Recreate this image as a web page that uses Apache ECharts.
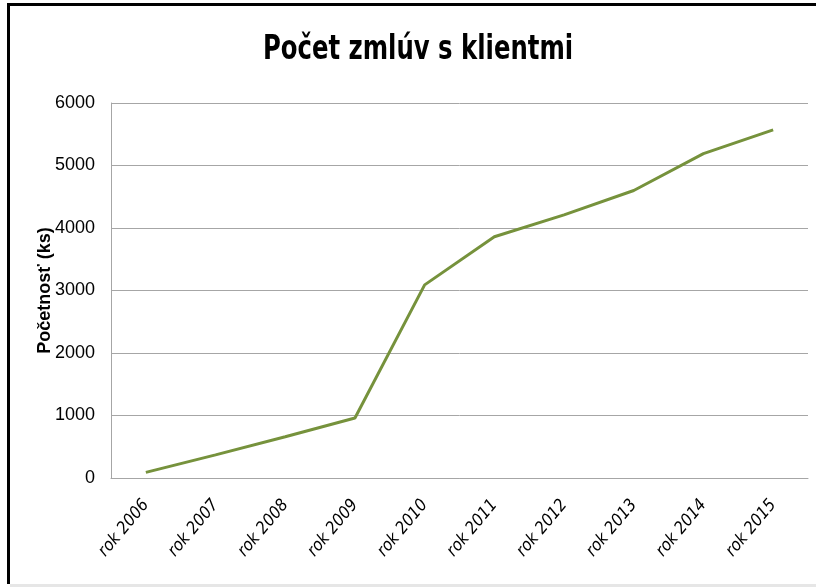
<!DOCTYPE html>
<html>
<head>
<meta charset="utf-8">
<title>Počet zmlúv s klientmi</title>
<script src="https://cdn.jsdelivr.net/npm/echarts@6/dist/echarts.min.js"></script>
<style>
  html, body { margin: 0; padding: 0; background: #fff; }
  #chart { width: 816px; height: 587px; }
</style>
</head>
<body>
<div id="chart"></div>
<script>
// data
var years = ["rok 2006", "rok 2007", "rok 2008", "rok 2009", "rok 2010",
             "rok 2011", "rok 2012", "rok 2013", "rok 2014", "rok 2015"];
var zmluvy = [90, 370, 660, 960, 3090, 3860, 4210, 4600, 5190, 5570];

var narrow = "DejaVu Sans Condensed, Liberation Sans, sans-serif";

var chart = echarts.init(document.getElementById("chart"));

var option = {
  backgroundColor: "#fff",
  animation: false,
  grid: { left: 111, right: 8, top: 103, bottom: 109 },
  xAxis: {
    type: "category",
    data: years,
    boundaryGap: true,
    axisLine: { lineStyle: { color: "#a6a6a6", width: 1 } },
    axisTick: { show: false },
    axisLabel: {
      rotate: 50,
      margin: 24,
      fontFamily: narrow,
      fontStyle: "italic",
      fontSize: 17,
      color: "#000"
    }
  },
  yAxis: {
    type: "value",
    min: 0,
    max: 6000,
    interval: 1000,
    name: "Početnosť (ks)",
    nameLocation: "middle",
    nameGap: 57,
    nameMoveOverlap: false,
    nameTextStyle: {
      fontFamily: "Liberation Sans, sans-serif",
      fontSize: 18,
      fontWeight: "bold",
      color: "#000"
    },
    axisLine: { show: true, lineStyle: { color: "#a6a6a6", width: 1 } },
    axisTick: { show: false },
    splitLine: { lineStyle: { color: "#a6a6a6", width: 1 } },
    axisLabel: {
      margin: 16,
      formatter: function (v) { return String(v); },
      fontFamily: "Liberation Sans, sans-serif",
      fontSize: 18,
      color: "#000"
    }
  },
  series: [{
    type: "line",
    data: zmluvy,
    symbol: "none",
    lineStyle: { color: "#76923c", width: 3 }
  }],
  graphic: [
    // title, squeezed to look like the condensed original
    {
      type: "text",
      x: 418, y: 50, scaleX: 0.82,
      style: {
        text: "Počet zmlúv s klientmi",
        fontFamily: narrow,
        fontSize: 33,
        fontWeight: "bold",
        fill: "#000",
        align: "center",
        verticalAlign: "middle"
      }
    },
    { type: "rect", shape: { x: 7, y: 3, width: 820, height: 3 }, style: { fill: "#000" } },
    { type: "rect", shape: { x: 7, y: 3, width: 3, height: 581 }, style: { fill: "#000" } },
    { type: "rect", shape: { x: 10, y: 584, width: 806, height: 3 }, style: { fill: "#e6e6e6" } }
  ]
};

chart.setOption(option);
</script>
</body>
</html>
